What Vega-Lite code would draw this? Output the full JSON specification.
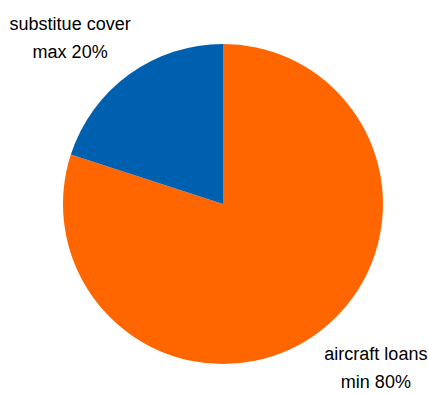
{
  "$schema": "https://vega.github.io/schema/vega-lite/v6.json",
  "width": 320,
  "height": 320,
  "autosize": {"type": "none"},
  "padding": {"left": 63, "top": 44, "right": 45, "bottom": 30},
  "background": "white",
  "config": {"view": {"stroke": null}},
  "data": {
    "values": [
      {"category": "aircraft loans", "share": 80, "label": "aircraft loans\nmin 80%", "order": 1},
      {"category": "substitue cover", "share": 20, "label": "substitue cover\nmax 20%", "order": 2}
    ]
  },
  "layer": [
    {
      "mark": {"type": "arc", "outerRadius": 160},
      "encoding": {
        "theta": {"field": "share", "type": "quantitative", "stack": true},
        "order": {"field": "order", "type": "quantitative"},
        "color": {
          "field": "category",
          "type": "nominal",
          "scale": {"domain": ["aircraft loans", "substitue cover"], "range": ["#FF6600", "#0060B0"]},
          "legend": null
        }
      }
    },
    {
      "mark": {"type": "text", "radius": 225, "dy": -14, "lineBreak": "\n", "font": "Liberation Sans", "fontSize": 18, "lineHeight": 28, "align": "center", "baseline": "middle", "color": "#000000"},
      "encoding": {
        "theta": {"field": "share", "type": "quantitative", "stack": true, "scale": {"range": [-0.1187, 6.1645]}},
        "order": {"field": "order", "type": "quantitative"},
        "text": {"field": "label"}
      }
    }
  ],
  "resolve": {"scale": {"theta": "independent"}}
}
